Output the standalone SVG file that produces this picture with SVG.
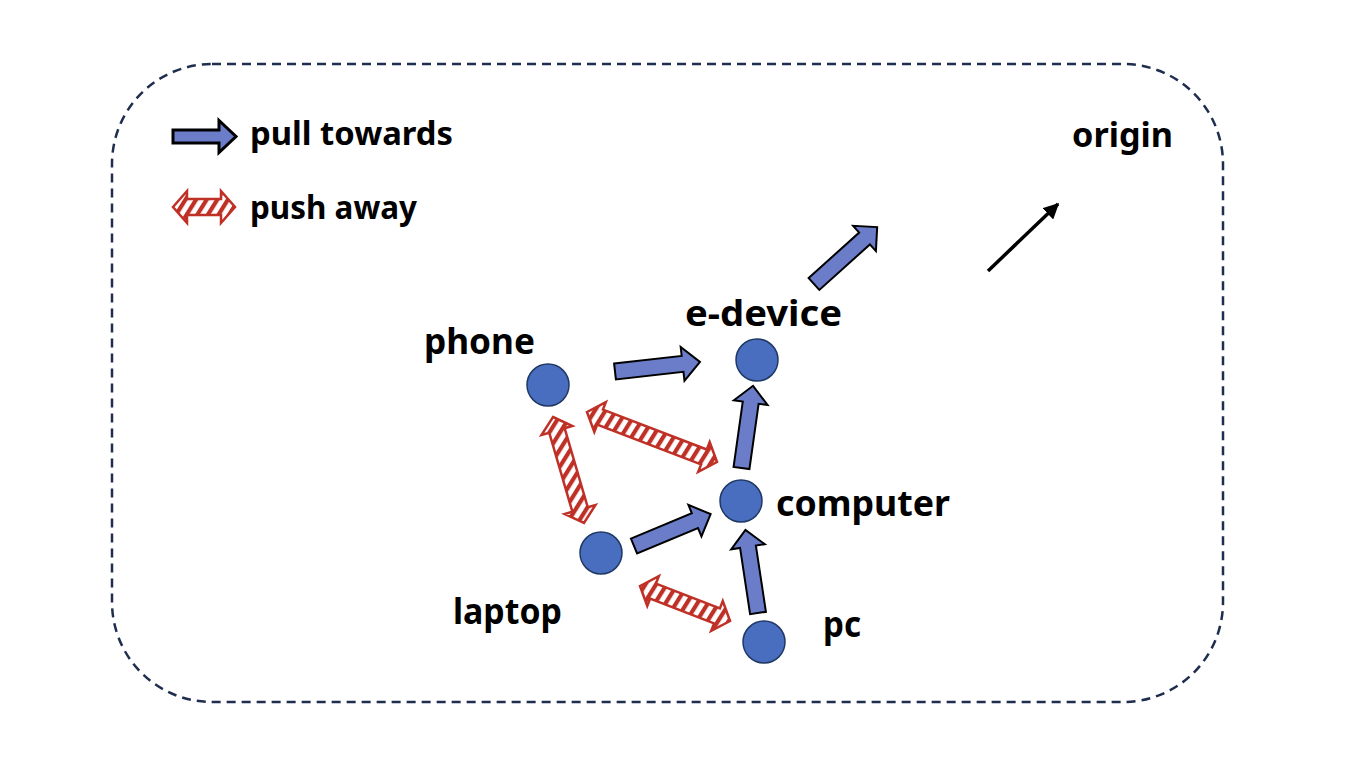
<svg xmlns="http://www.w3.org/2000/svg" width="1360" height="758" viewBox="0 0 1360 758">
  <style>
    .lbl { font-family: "Comic Sans MS", "Noto Sans", "DejaVu Sans", sans-serif; font-weight: bold; fill: #000; }
    .node { fill: #4A6EBF; stroke: #1F3864; stroke-width: 1.5; }
    .pull { fill: #6B7DC8; stroke: #000; stroke-width: 2; stroke-linejoin: miter; }
    .push { fill: url(#hatch); stroke: #BF3026; stroke-width: 2.5; stroke-linejoin: miter; }
  </style>
  <defs>
    <pattern id="hatch" patternUnits="userSpaceOnUse" width="9" height="9" patternTransform="rotate(32)">
      <rect width="9" height="9" fill="#ffffff"/>
      <rect width="4.2" height="9" fill="#BF3026"/>
    </pattern>
    <marker id="tri" viewBox="0 0 10 10" refX="9" refY="5" markerWidth="4.5" markerHeight="4.5" orient="auto">
      <path d="M0,0 L10,5 L0,10 Z" fill="#000"/>
    </marker>
  </defs>

  <rect x="0" y="0" width="1360" height="758" fill="#ffffff"/>

  <!-- frame -->
  <rect id="frame" x="112" y="64" width="1111" height="638" rx="100" ry="100" fill="none" stroke="#1F2D4F" stroke-width="2.5" stroke-dasharray="9 6"/>

  <!-- legend -->
  <g id="legend">
    <path class="pull" style="stroke-width:3" transform="translate(173,136.5)" d="M0,-6.5 L46,-6.5 L46,-16 L63,0 L46,16 L46,6.5 L0,6.5 Z"/>
    <text class="lbl" x="250" y="145" font-size="32" textLength="203" lengthAdjust="spacingAndGlyphs">pull towards</text>
    <path class="push" d="M173,207 L187,191 L187,199 L221,199 L221,191 L235,207 L221,223 L221,215 L187,215 L187,223 Z"/>
    <text class="lbl" x="250" y="219" font-size="32" textLength="167" lengthAdjust="spacingAndGlyphs">push away</text>
  </g>

  <g id="origin">
    <text class="lbl" x="1072" y="147" font-size="34" textLength="101" lengthAdjust="spacingAndGlyphs">origin</text>
  </g>

  <!-- connectors -->
  <g id="connectors">
    <!-- pull towards -->
    <path class="pull" transform="translate(615,371.5) rotate(-6.4)" d="M0,-8 L68,-8 L68,-17 L85.5,0 L68,17 L68,8 L0,8 Z"/>
    <path class="pull" transform="translate(741.5,468) rotate(-82)" d="M0,-8 L66,-8 L66,-17 L83,0 L66,17 L66,8 L0,8 Z"/>
    <path class="pull" transform="translate(634,546) rotate(-22.6)" d="M0,-8 L66,-8 L66,-17 L83,0 L66,17 L66,8 L0,8 Z"/>
    <path class="pull" transform="translate(758,613) rotate(-98.6)" d="M0,-8 L67,-8 L67,-17 L84,0 L67,17 L67,8 L0,8 Z"/>
    <path class="pull" transform="translate(814,284) rotate(-42)" d="M0,-8 L68,-8 L68,-17 L85,0 L68,17 L68,8 L0,8 Z"/>
    <!-- push away -->
    <path class="push" d="M587,412 L605.81,402.1 L602.94,409.56 L706.81,449.51 L709.68,442.05 L717.01,462.01 L698.2,471.91 L701.07,464.45 L597.2,424.5 L594.33,431.96 Z"/>
    <path class="push" d="M553,417 L572.29,425.95 L564.61,428.19 L587.74,507.27 L595.42,505.03 L583.99,522.96 L564.7,514.01 L572.38,511.77 L549.25,432.69 L541.57,434.93 Z"/>
    <path class="push" d="M640,586 L658.85,576.16 L655.95,583.61 L719.88,608.47 L722.78,601.02 L730.03,621.01 L711.18,630.84 L714.08,623.39 L650.15,598.53 L647.25,605.98 Z"/>
    <!-- origin direction -->
    <line x1="988" y1="271" x2="1058" y2="204" stroke="#000" stroke-width="3.5" marker-end="url(#tri)"/>
  </g>

  <!-- nodes -->
  <g id="node-phone">
    <circle class="node" cx="548" cy="385" r="21"/>
    <text class="lbl" x="424" y="354" font-size="35" textLength="111" lengthAdjust="spacingAndGlyphs">phone</text>
  </g>
  <g id="node-edevice">
    <circle class="node" cx="757" cy="360" r="21"/>
    <text class="lbl" x="685" y="326" font-size="35" textLength="157" lengthAdjust="spacingAndGlyphs">e-device</text>
  </g>
  <g id="node-computer">
    <circle class="node" cx="741" cy="501" r="21"/>
    <text class="lbl" x="776" y="516" font-size="35" textLength="174" lengthAdjust="spacingAndGlyphs">computer</text>
  </g>
  <g id="node-laptop">
    <circle class="node" cx="601" cy="553" r="21"/>
    <text class="lbl" x="453" y="624" font-size="35" textLength="109" lengthAdjust="spacingAndGlyphs">laptop</text>
  </g>
  <g id="node-pc">
    <circle class="node" cx="764" cy="642" r="21"/>
    <text class="lbl" x="823" y="637" font-size="35" textLength="38" lengthAdjust="spacingAndGlyphs">pc</text>
  </g>
</svg>
